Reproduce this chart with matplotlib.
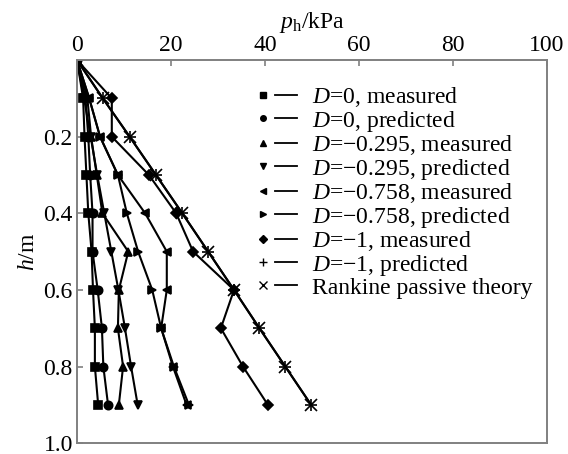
import matplotlib
matplotlib.use("Agg")
import matplotlib.pyplot as plt
from matplotlib.lines import Line2D
from matplotlib.legend_handler import HandlerTuple

plt.rcParams["font.family"] = ["Liberation Serif", "DejaVu Serif"]
plt.rcParams["mathtext.fontset"] = "custom"
plt.rcParams["mathtext.rm"] = "Liberation Serif"
plt.rcParams["mathtext.it"] = "Liberation Serif:italic"
plt.rcParams["font.size"] = 17

# depth below surface (m)
depth = [0.0, 0.1, 0.2, 0.3, 0.4, 0.5, 0.6, 0.7, 0.8, 0.9]

# lateral pressure p_h (kPa)
d0_measured = [0.0, 1.3, 1.6, 2.0, 2.4, 3.1, 3.4, 3.8, 3.8, 4.5]
d0_predicted = [0.0, 1.8, 2.4, 2.8, 3.3, 3.3, 4.4, 5.3, 5.6, 6.6]
d0295_measured = [0.0, 2.2, 3.0, 4.2, 5.4, 10.9, 8.9, 8.7, 9.8, 8.9]
d0295_predicted = [0.0, 1.5, 2.9, 4.3, 5.8, 7.3, 8.8, 10.2, 11.5, 12.9]
d0758_measured = [0.0, 2.6, 4.9, 8.7, 14.5, 19.1, 19.1, 17.9, 20.4, 23.3]
d0758_predicted = [0.0, 2.6, 4.9, 8.7, 10.6, 13.0, 16.0, 17.9, 20.6, 23.8]
d1_measured = [0.0, 7.4, 7.4, 15.3, 21.1, 24.7, 33.4, 30.6, 35.3, 40.6]
d1_predicted = [0.0, 5.5, 11.2, 16.8, 22.4, 27.9, 33.4, 38.8, 44.3, 49.8]
rankine = [0.0, 5.5, 11.2, 16.8, 22.4, 27.9, 33.4, 38.8, 44.3, 49.8]

labels = [
    "$D$=0, measured",
    "$D$=0, predicted",
    "$D$=\u22120.295, measured",
    "$D$=\u22120.295, predicted",
    "$D$=\u22120.758, measured",
    "$D$=\u22120.758, predicted",
    "$D$=\u22121, measured",
    "$D$=\u22121, predicted",
    "Rankine passive theory",
]
series = [d0_measured, d0_predicted, d0295_measured, d0295_predicted,
          d0758_measured, d0758_predicted, d1_measured, d1_predicted, rankine]
markers = ["s", "o", "^", "v", "<", ">", "D", "+", "x"]
msizes = [6, 6, 6, 6, 6, 6, 5, 9, 8]

fig = plt.figure(figsize=(5.68, 4.54), dpi=100)
ax = fig.add_axes([0.1356, 0.024, 0.8275, 0.8436])

handles = []
for vals, mk, ms in zip(series, markers, msizes):
    ax.plot(vals, depth, color="black", lw=1.5, marker=mk, ms=ms,
            mew=1.2, mfc="black", mec="black")
    h_mark = Line2D([], [], ls="", marker=mk, color="black",
                    ms=4 if mk not in "+x" else 6, mew=1.0)
    h_line = Line2D([], [], ls="-", color="black", lw=1.3)
    handles.append((h_mark, h_line))

ax.set_xlim(0, 100)
ax.set_ylim(1.0, 0.0)
ax.xaxis.tick_top()
ax.xaxis.set_label_position("top")
ax.set_xticks([0, 20, 40, 60, 80, 100])
ax.set_yticks([0.2, 0.4, 0.6, 0.8, 1.0])
ax.set_yticklabels(["0.2", "0.4", "0.6", "0.8", "1.0"], va="center_baseline")
ax.tick_params(direction="in", length=4, width=1.2, color="#808080", pad=3)
for sp in ax.spines.values():
    sp.set_color("#808080")
    sp.set_linewidth(1.4)

ax.set_xlabel("$p_\\mathrm{h}$/kPa", labelpad=5)
ax.set_ylabel("$h$/m", labelpad=3)

ax.legend(handles=handles, labels=labels, loc="upper left",
          bbox_to_anchor=(0.372, 0.935), frameon=False, borderpad=0,
          borderaxespad=0, labelspacing=-0.02, handlelength=1.9,
          handletextpad=0.65,
          handler_map={tuple: HandlerTuple(ndivide=None, pad=0.05)})

fig.savefig("out.png", dpi=100)
